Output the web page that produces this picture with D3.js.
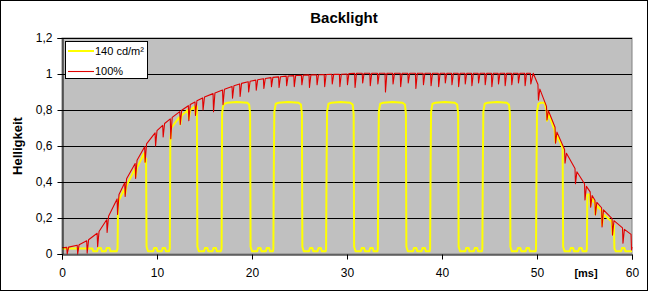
<!DOCTYPE html>
<html><head><meta charset="utf-8">
<script src="https://cdn.jsdelivr.net/npm/d3@7"></script>
<style>
html,body{margin:0;padding:0;background:#fff;}
svg{display:block;font-family:"Liberation Sans",Arial,sans-serif;}
</style></head>
<body>
<svg id="chart" width="648" height="291"></svg>
<script>
const chartTitle = "Backlight";
const yTitle = "Helligkeit";
const xUnit = "[ms]";
const seriesNames = ["140 cd/m²", "100%"];
const xTicks = [0, 10, 20, 30, 40, 50, 60];
const xTickLabels = ["0", "10", "20", "30", "40", "50", "60"];
const yTicks = [0, 0.2, 0.4, 0.6, 0.8, 1.0, 1.2];
const yTickLabels = ["0", "0,2", "0,4", "0,6", "0,8", "1", "1,2"];

// series "140 cd/m²" : [time ms, brightness]
const yellowPoints = [
[0,0.03],[3.2,0.03],[3.3,0.015],[3.7,0.015],[3.8,0.033],[4.1,0.033],[4.2,0.015],[4.6,0.015],[4.7,0.033],[5.0,0.033],[5.1,0.015],[5.75,0.015],[5.85,0.03],
[5.9,0.27],[6.0,0.30],[6.55,0.36],[6.65,0.33],[6.8,0.38],[7.65,0.47],[7.75,0.43],[7.9,0.48],[8.65,0.56],[8.75,0.51],[8.85,0.53],[8.9,0.04],
[9.05,0.015],[9.6,0.015],[9.7,0.033],[9.95,0.033],[10.05,0.015],[10.5,0.015],[10.6,0.033],[10.85,0.033],[10.95,0.015],[11.25,0.015],[11.35,0.03],
[11.4,0.62],[11.5,0.70],[12.35,0.76],[12.45,0.72],[12.6,0.77],[13.25,0.80],[13.35,0.75],[13.5,0.80],[14.0,0.82],[14.05,0.78],[14.2,0.82],[14.25,0.04],
[14.4,0.015],[14.95,0.015],[15.05,0.033],[15.3,0.033],[15.4,0.015],[15.85,0.015],[15.95,0.033],[16.2,0.033],[16.3,0.015],[16.7,0.015],[16.8,0.03],
[16.85,0.78],[16.95,0.82],[17.1,0.835],[17.4,0.84],[18.4,0.845],[19.5,0.84],[19.7,0.83],[19.8,0.78],[19.85,0.04],
[20.0,0.015],[20.55,0.015],[20.65,0.033],[20.9,0.033],[21.0,0.015],[21.45,0.015],[21.55,0.033],[21.8,0.033],[21.9,0.015],[22.2,0.015],[22.25,0.03],
[22.3,0.5],[22.35,0.79],[22.5,0.835],[22.8,0.84],[23.8,0.845],[24.9,0.84],[25.15,0.83],[25.25,0.78],[25.3,0.04],
[25.45,0.015],[26.0,0.015],[26.1,0.033],[26.35,0.033],[26.45,0.015],[26.9,0.015],[27.0,0.033],[27.25,0.033],[27.35,0.015],[27.75,0.015],[27.8,0.03],
[27.85,0.5],[27.9,0.79],[28.05,0.835],[28.35,0.84],[29.3,0.845],[30.35,0.84],[30.6,0.83],[30.7,0.78],[30.75,0.04],
[30.9,0.015],[31.45,0.015],[31.55,0.033],[31.8,0.033],[31.9,0.015],[32.35,0.015],[32.45,0.033],[32.7,0.033],[32.8,0.015],[33.2,0.015],[33.25,0.03],
[33.3,0.5],[33.35,0.79],[33.5,0.835],[33.8,0.84],[34.8,0.845],[35.85,0.84],[36.1,0.83],[36.2,0.78],[36.25,0.04],
[36.4,0.015],[36.95,0.015],[37.05,0.033],[37.3,0.033],[37.4,0.015],[37.85,0.015],[37.95,0.033],[38.2,0.033],[38.3,0.015],[38.7,0.015],[38.75,0.03],
[38.8,0.5],[38.85,0.79],[39.0,0.835],[39.3,0.84],[40.3,0.845],[41.35,0.84],[41.6,0.83],[41.7,0.78],[41.75,0.04],
[41.9,0.015],[42.45,0.015],[42.55,0.033],[42.8,0.033],[42.9,0.015],[43.35,0.015],[43.45,0.033],[43.7,0.033],[43.8,0.015],[44.2,0.015],[44.25,0.03],
[44.3,0.5],[44.35,0.79],[44.5,0.835],[44.8,0.84],[45.8,0.845],[46.8,0.84],[47.05,0.83],[47.15,0.78],[47.2,0.04],
[47.35,0.015],[47.9,0.015],[48.0,0.033],[48.25,0.033],[48.35,0.015],[48.8,0.015],[48.9,0.033],[49.15,0.033],[49.25,0.015],[49.85,0.015],[49.9,0.03],
[49.95,0.5],[50.0,0.79],[50.15,0.835],[50.4,0.84],[50.8,0.84],[51.0,0.80],[51.05,0.74],[51.2,0.78],[51.85,0.69],[51.95,0.62],[52.1,0.66],[52.7,0.59],[52.75,0.04],
[52.9,0.015],[53.45,0.015],[53.55,0.033],[53.8,0.033],[53.9,0.015],[54.35,0.015],[54.45,0.033],[54.7,0.033],[54.8,0.015],[55.2,0.015],[55.25,0.03],
[55.3,0.33],[55.55,0.33],[55.65,0.27],[55.8,0.31],[56.1,0.28],[56.15,0.22],[56.3,0.27],[56.8,0.24],[56.85,0.16],[57.0,0.22],[57.85,0.18],[57.95,0.11],[58.1,0.16],[58.15,0.03],
[58.3,0.015],[58.85,0.015],[58.95,0.033],[59.2,0.033],[59.3,0.015],[60,0.015]
];

// series "100%" : [time ms, brightness]
const redPoints = [
[0,0.035],
[0.5,0.037],[0.55,0.0],[0.7,0.038],
[1.6,0.049],[1.65,0.0],[1.8,0.052],
[2.6,0.073],[2.65,0.005],[2.8,0.079],
[3.7,0.115],[3.75,0.04],[3.9,0.125],
[4.7,0.19],[4.75,0.12],[4.9,0.21],
[5.8,0.306],[5.85,0.22],[6.0,0.33],
[6.6,0.396],[6.65,0.32],[6.8,0.418],
[7.7,0.503],[7.75,0.42],[7.9,0.521],
[8.7,0.596],[8.75,0.51],[8.9,0.612],
[9.8,0.673],[9.85,0.6],[10.0,0.685],
[10.6,0.715],[10.65,0.65],[10.8,0.725],
[11.4,0.751],[11.45,0.64],[11.6,0.759],
[12.4,0.791],[12.45,0.72],[12.6,0.799],
[13.3,0.824],[13.35,0.74],[13.5,0.83],
[14.0,0.845],[14.05,0.77],[14.2,0.851],
[14.8,0.867],[14.85,0.80],[15.0,0.872],
[15.9,0.891],[15.95,0.79],[16.1,0.895],
[16.9,0.911],[16.95,0.83],[17.1,0.915],
[17.9,0.931],[17.95,0.865],[18.1,0.935],
[18.7,0.945],[18.75,0.875],[18.9,0.948],
[19.6,0.957],[19.65,0.90],[19.8,0.96],
[20.4,0.966],[20.45,0.91],[20.6,0.968],
[21.2,0.974],[21.25,0.92],[21.4,0.975],
[22.0,0.98],[22.05,0.93],[22.2,0.981],
[22.8,0.984],[22.85,0.925],[23.0,0.985],
[23.6,0.988],[23.65,0.935],[23.8,0.989],
[24.4,0.991],[24.45,0.93],[24.6,0.992],
[25.2,0.993],[25.25,0.94],[25.4,0.994],
[26.0,0.995],[26.05,0.925],[26.2,0.995],
[26.8,0.996],[26.85,0.94],[27.0,0.996],
[27.6,0.997],[27.65,0.93],[27.8,0.997],
[28.4,0.998],[28.45,0.945],[28.6,0.998],
[29.2,0.999],[29.25,0.93],[29.4,0.999],
[30.0,1.0],[30.05,0.94],[30.2,1.002],
[30.8,1.004],[30.85,0.925],[31.0,1.004],
[31.6,1.004],[31.65,0.95],[31.8,1.004],
[32.4,1.004],[32.45,0.935],[32.6,1.004],
[33.2,1.004],[33.25,0.945],[33.4,1.004],
[34.0,1.004],[34.05,0.90],[34.2,1.004],
[34.8,1.004],[34.85,0.945],[35.0,1.004],
[35.6,1.004],[35.65,0.93],[35.8,1.004],
[36.4,1.004],[36.45,0.95],[36.6,1.004],
[37.2,1.004],[37.25,0.92],[37.4,1.004],
[38.0,1.004],[38.05,0.94],[38.2,1.004],
[38.8,1.004],[38.85,0.935],[39.0,1.004],
[39.6,1.004],[39.65,0.93],[39.8,1.004],
[40.3,1.004],[40.35,0.95],[40.5,1.004],
[41.0,1.004],[41.05,0.94],[41.2,1.004],
[41.7,1.004],[41.75,0.93],[41.9,1.004],
[42.4,1.004],[42.45,0.945],[42.6,1.004],
[43.1,1.004],[43.15,0.935],[43.3,1.004],
[43.8,1.004],[43.85,0.95],[44.0,1.004],
[44.5,1.004],[44.55,0.94],[44.7,1.004],
[45.2,1.004],[45.25,0.93],[45.4,1.004],
[45.9,1.004],[45.95,0.945],[46.1,1.004],
[46.6,1.004],[46.65,0.935],[46.8,1.004],
[47.3,1.004],[47.35,0.94],[47.5,1.004],
[48.0,1.004],[48.05,0.95],[48.2,1.004],
[48.7,1.004],[48.75,0.935],[48.9,1.004],
[49.3,1.004],[49.35,0.945],[49.6,1.004],
[50.1,0.942],[50.15,0.855],[50.3,0.916],
[51.0,0.82],[51.05,0.745],[51.2,0.796],
[51.9,0.704],[51.95,0.615],[52.1,0.677],
[52.9,0.581],[52.95,0.505],[53.1,0.56],
[54.0,0.475],[54.05,0.39],[54.2,0.457],
[55.0,0.39],[55.05,0.30],[55.2,0.376],
[55.6,0.345],[55.65,0.26],[55.8,0.325],
[56.1,0.299],[56.15,0.217],[56.3,0.287],
[56.8,0.257],[56.85,0.15],[57.0,0.245],
[57.9,0.196],[57.95,0.105],[58.1,0.185],
[59.0,0.145],[59.05,0.06],[59.2,0.137],
[59.9,0.109],[59.95,0.022],[60.0,0.04]
];

const W = 648, H = 291;
const plot = {left: 62, right: 632, top: 38, bottom: 254};
const svg = d3.select("#chart");
const FONT = '"Liberation Sans", Arial, sans-serif';

svg.append("rect").attr("x",0.5).attr("y",0.5).attr("width",W-1).attr("height",H-1)
  .attr("fill","#fff").attr("stroke","#000").attr("stroke-width",1);

const x = d3.scaleLinear().domain([0,60]).range([plot.left, plot.right]);
const y = d3.scaleLinear().domain([0,1.2]).range([plot.bottom, plot.top]);

// plot area
svg.append("rect").attr("x",plot.left).attr("y",plot.top)
  .attr("width",plot.right-plot.left).attr("height",plot.bottom-plot.top)
  .attr("fill","#c0c0c0").attr("stroke","#808080").attr("stroke-width",1);

// gridlines
svg.append("g").selectAll("line").data(yTicks.filter(d=>d>0)).join("line")
  .attr("x1",plot.left).attr("x2",plot.right)
  .attr("y1",d=>Math.round(y(d))+0.5).attr("y2",d=>Math.round(y(d))+0.5)
  .attr("stroke","#000").attr("stroke-width",1);

// clip
svg.append("clipPath").attr("id","clip").append("rect")
  .attr("x",plot.left).attr("y",plot.top-2).attr("width",plot.right-plot.left+1).attr("height",plot.bottom-plot.top+3);

const line = d3.line().x(d=>x(d[0])).y(d=>y(d[1]));
const g = svg.append("g").attr("clip-path","url(#clip)");
g.append("path").datum(yellowPoints).attr("d",line)
  .attr("fill","none").attr("stroke","#ffff00").attr("stroke-width",2).attr("stroke-linejoin","round");
g.append("path").datum(redPoints).attr("d",line)
  .attr("fill","none").attr("stroke","#e00000").attr("stroke-width",1.1).attr("stroke-linejoin","round");

// axes
const yAxis = d3.axisLeft(y).tickValues(yTicks).tickSize(5).tickPadding(5)
  .tickFormat((d,i)=>yTickLabels[i]);
const gy = svg.append("g").attr("transform",`translate(${plot.left+0.5},0)`).call(yAxis);
const xAxis = d3.axisBottom(x).tickValues(xTicks).tickSize(5).tickPadding(5)
  .tickFormat((d,i)=>xTickLabels[i]);
const gx = svg.append("g").attr("transform",`translate(0,${plot.bottom+0.5})`).call(xAxis);
[gx,gy].forEach(a=>{
  a.select(".domain").attr("stroke","#000");
  a.selectAll(".tick line").attr("stroke","#000");
  a.selectAll("text").attr("font-family",FONT).attr("font-size",12).attr("fill","#000");
});
gx.selectAll("text").attr("y",18).attr("dy","0.35em");

// titles
svg.append("text").attr("x",344).attr("y",18).attr("dy","0.35em").attr("text-anchor","middle")
  .attr("font-family",FONT).attr("font-size",15).attr("font-weight","bold").text(chartTitle);
svg.append("text").attr("transform","translate(17,146) rotate(-90)").attr("dy","0.35em")
  .attr("text-anchor","middle").attr("font-family",FONT).attr("font-size",13).attr("font-weight","bold").text(yTitle);
svg.append("text").attr("x",586).attr("y",273).attr("dy","0.35em").attr("text-anchor","middle")
  .attr("font-family",FONT).attr("font-size",11).attr("font-weight","bold").text(xUnit);

// legend
const lg = svg.append("g");
lg.append("rect").attr("x",65.5).attr("y",41.5).attr("width",82).attr("height",37)
  .attr("fill","#fff").attr("stroke","#000").attr("stroke-width",1);
const colors = ["#ffff00","#e00000"], widths = [2,1.1], rows = [51, 71.5];
seriesNames.forEach((n,i)=>{
  lg.append("line").attr("x1",68).attr("x2",94).attr("y1",rows[i]).attr("y2",rows[i])
    .attr("stroke",colors[i]).attr("stroke-width",widths[i]);
  lg.append("text").attr("x",95).attr("y",rows[i]).attr("dy","0.35em")
    .attr("font-family",FONT).attr("font-size",11).text(n);
});
</script>
</body></html>
